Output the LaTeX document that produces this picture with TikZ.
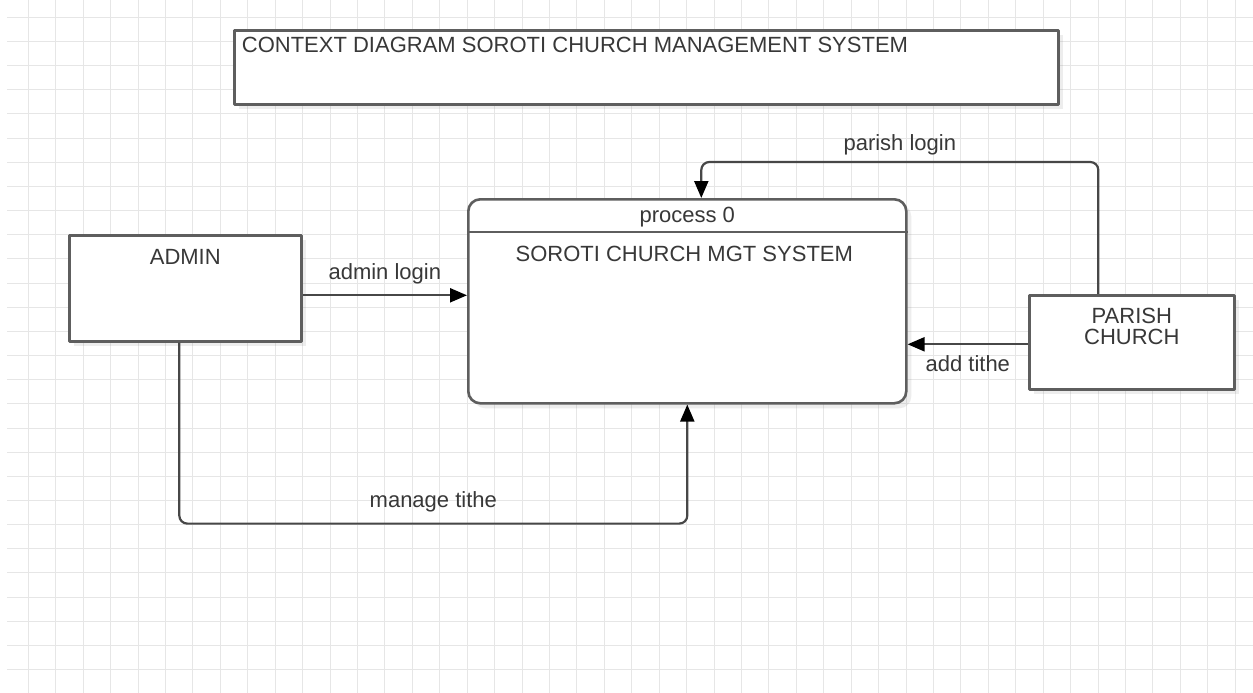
\documentclass[tikz,border=0pt]{standalone}
\usepackage{fontspec}
\setmainfont{Liberation Sans}
\usetikzlibrary{arrows.meta,shadows}

\definecolor{gridgray}{HTML}{E6E6E6}
\definecolor{boxgray}{HTML}{5E5E5E}
\definecolor{linegray}{HTML}{474747}
\definecolor{textgray}{HTML}{383838}

\tikzset{
  entity/.style={rectangle,draw=boxgray,line width=2.6pt,fill=white,
    anchor=north west,inner sep=0pt,
    drop shadow={opacity=0.14,shadow xshift=5pt,shadow yshift=-5pt}},
  procbox/.style={entity,rounded corners=12pt},
  txt/.style={text=textgray,inner sep=0pt,anchor=base,
    font=\fontsize{22pt}{26pt}\selectfont},
  flow/.style={draw=linegray,line width=2.2pt,rounded corners=8pt,
    -{Triangle[length=17pt,width=14pt,color=black]}},
  gridline/.style={draw=gridgray,line width=1pt}
}

\begin{document}
\begin{tikzpicture}[x=1pt,y=-1pt,line join=round]
  \useasboundingbox (0,0) rectangle (1253,693);
  \fill[white] (0,0) rectangle (1253,693);

  % squared paper
  \foreach \i in {0,...,44}
    \draw[gridline] ({28.3+27.43*\i},0) -- ++(0,693);
  \foreach \j in {0,...,27}
    \draw[gridline] (7,{17.3+24.16*\j}) -- (1253,{17.3+24.16*\j});

  % heading
  \node[entity,drop shadow={opacity=0},minimum width=824pt,minimum height=74pt] (title) at (233,29) {};
  \node[txt,anchor=base west] (titletxt) at ([xshift=8.7pt,yshift=-23.7pt]title.north west)
    {CONTEXT DIAGRAM SOROTI CHURCH MANAGEMENT SYSTEM};

  % external entities and the process
  \node[entity,minimum width=232pt,minimum height=106pt] (admin) at (68,234) {};
  \node[txt] (admintxt) at ([yshift=-30pt]admin.north) {ADMIN};

  \node[procbox,minimum width=438pt,minimum height=204pt] (proc) at (467,198) {};
  \draw[draw=boxgray,line width=2.6pt] ([yshift=-34pt]proc.north west) -- ([yshift=-34pt]proc.north east);
  \node[txt] (proctop) at ([yshift=-24pt]proc.north) {process 0};
  \node[txt] (procname) at ([xshift=-3pt,yshift=-63pt]proc.north) {SOROTI CHURCH MGT SYSTEM};

  \node[entity,minimum width=205pt,minimum height=94pt] (parish) at (1028,294) {};
  \node[txt] (parishtxt) at ([yshift=-29pt]parish.north) {PARISH};
  \node[txt] (churchtxt) at ([yshift=-50pt]parish.north) {CHURCH};

  % data flows
  \draw[flow] ([yshift=-7pt]admin.east) -- ([yshift=-7pt]admin.east -| proc.west)
    node[txt,midway,yshift=16pt] {admin login};
  \draw[flow] ([xshift=-33.5pt]parish.north) -- ++(0,-132) -| ([xshift=14pt]proc.north)
    node[txt,pos=0.25,yshift=12pt] {parish login};
  \draw[flow] ([yshift=-2pt]parish.west) -- ([yshift=-2pt]parish.west -| proc.east)
    node[txt,midway,yshift=-27pt] {add tithe};
  \draw[flow] ([xshift=-6pt]admin.south) -- ++(0,181) -| (proc.south)
    node[txt,pos=0.25,yshift=16pt] {manage tithe};
\end{tikzpicture}
\end{document}
